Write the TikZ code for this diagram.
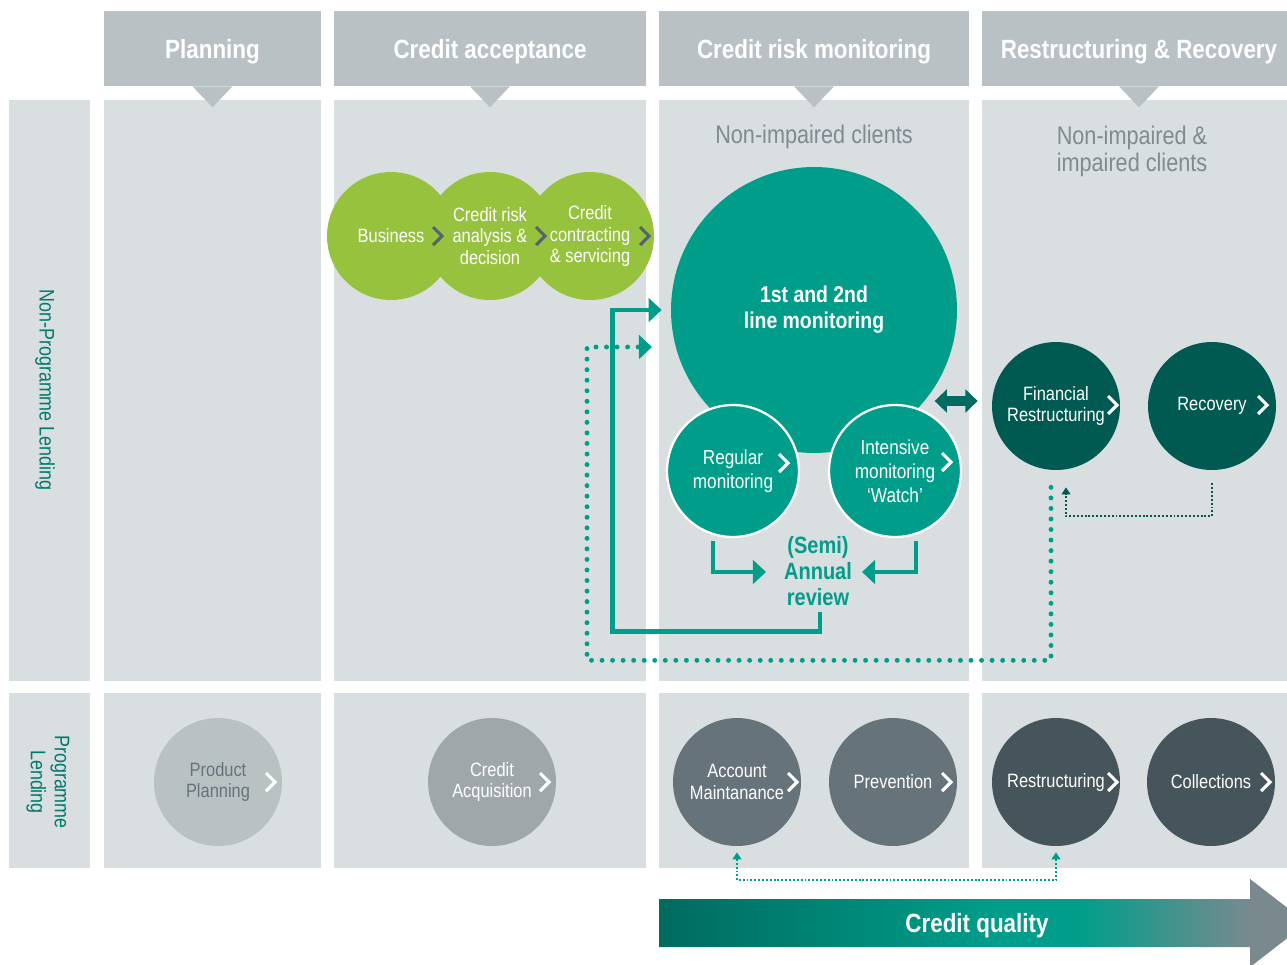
\documentclass[tikz,border=0pt]{standalone}
\usepackage{fontspec}
\setmainfont{Liberation Sans}[FakeStretch=0.85]
\usetikzlibrary{positioning,arrows.meta,calc}

\definecolor{headgray}{HTML}{BAC1C4}
\definecolor{panelgray}{HTML}{D9DEE0}
\definecolor{leafgreen}{HTML}{97C23D}
\definecolor{monteal}{HTML}{009E8A}
\definecolor{deepteal}{HTML}{005A52}
\definecolor{arrowteal}{HTML}{006B61}
\definecolor{labelteal}{HTML}{007A6C}
\definecolor{chevgray}{HTML}{58646B}
\definecolor{notegray}{HTML}{7F8B90}
\definecolor{plangray}{HTML}{B9C1C3}
\definecolor{acqgray}{HTML}{A0A7AB}
\definecolor{slate}{HTML}{66737B}
\definecolor{darkslate}{HTML}{46545B}
\definecolor{qualgray}{HTML}{7A898E}
\definecolor{qualdark}{HTML}{006B5F}

\newcommand{\chevmark}[3]{\draw[chevline,draw=#3] ($(#1)+(#2)+(-5,-9)$) -- ++(9,9) -- ++(-9,9);}

\begin{document}
\begin{tikzpicture}[x=0.02cm, y=-0.02cm,
			every node/.style={align=center, inner sep=0pt},
			head/.style={fill=headgray, text=white, minimum height=1.5cm, text depth=0pt,
				font=\fontsize{15}{18}\selectfont\bfseries},
			stage/.style={circle, minimum size=2.56cm, text=white,
				font=\fontsize{11}{12.2}\selectfont},
			watch/.style={circle, minimum size=2.64cm, fill=monteal, draw=white,
				line width=1.3pt, text=white, font=\fontsize{11.5}{13.6}\selectfont},
			note/.style={text=notegray, font=\fontsize{14.5}{15.4}\selectfont},
			lane/.style={rotate=-90, text=labelteal, font=\fontsize{12}{13.6}\selectfont},
			chevline/.style={line width=1.8pt, line join=miter},
			flowline/.style={draw=monteal, line width=2.6pt,
				-{Triangle[length=7.5pt,width=13.5pt]}},
			dotflow/.style={draw=monteal, line width=2.8pt, line cap=round,
				dash pattern=on 0pt off 6pt, -{Triangle[length=7.5pt,width=13.5pt]}},
			fineflow/.style={line width=1.1pt, dash pattern=on 1.1pt off 1.1pt},
			dblflow/.style={draw=arrowteal, line width=5.5pt,
				{Triangle[length=7pt,width=13pt]}-{Triangle[length=7pt,width=13pt]}}]
			
			\useasboundingbox (0,0) rectangle (1287,964);
			
			\clip (0,0) rectangle (1287,964);
			
			% lanes
			\foreach \xa/\xb in {9/90,104/321,334/646,659/969,982/1300}{
				\fill[panelgray] (\xa,100) rectangle (\xb,681);
				\fill[panelgray] (\xa,693) rectangle (\xb,868);
			}
			
			% phase headers
			\node[head, minimum width=4.34cm] (hplan) at (212.5,48.5) {Planning};
			
			\node[head, minimum width=6.24cm] (hacc) at (490,48.5) {Credit acceptance};
			
			\node[head, minimum width=6.2cm] (hmon) at (814,48.5) {Credit risk monitoring};
			
			\node[head, minimum width=6.28cm] (hrec) at (1139,48.5) {Restructuring \& Recovery};
			
			\foreach \h in {hplan,hacc,hmon,hrec}
				\fill[headgray] ($(\h.south)+(-20,0)$) -- ($(\h.south)+(20,0)$) -- ($(\h.south)+(0,21)$) -- cycle;
			
			\node[lane] (npl) at (45,390) {Non-Programme Lending};
			
			\node[lane] (pl) at (48,782) {Programme\\Lending};
			
			\node[note] (nonimp) at (814,137) {Non-impaired clients};
			
			\node[note] (imp) at (1132,151) {Non-impaired \&\\impaired clients};
			
			% credit acceptance
			\node[stage, fill=leafgreen] (biz) at (391,236) {Business};
			
			\node[stage, fill=leafgreen] (risk) at (490,236) {Credit risk\\analysis \&\\decision};
			
			\node[stage, fill=leafgreen] (contr) at (590,236) {Credit\\contracting\\\& servicing};
			
			% monitoring
			\node[circle, minimum size=5.72cm, fill=monteal, text=white,
				font=\fontsize{13}{14.8}\selectfont\bfseries] (big) at (814,310)
				{\raisebox{3pt}{\parbox{4cm}{\centering 1st and 2nd\\line monitoring}}};
			
			\node[watch] (reg) at (733,471) {Regular\\monitoring};
			
			\node[watch] (int) at (895,471) {Intensive\\monitoring\\`Watch'};
			
			\node[text=monteal, font=\fontsize{13.4}{15}\selectfont\bfseries] (review) at (818,571) {(Semi)\\Annual\\review};
			
			% restructuring and recovery
			\node[stage, fill=deepteal] (fin) at (1056,406) {Financial\\Restructuring};
			
			\node[stage, fill=deepteal] (rec) at (1212,406) {Recovery};
			
			% programme lending
			\node[stage, fill=plangray, text=slate] (pp) at (218,782) {Product\\Planning};
			
			\node[stage, fill=acqgray] (ca) at (492,782) {Credit\\Acquisition};
			
			\node[stage, fill=slate] (am) at (737,782) {Account\\Maintanance};
			
			\node[stage, fill=slate] (prev) at (893,782) {Prevention};
			
			\node[stage, fill=darkslate] (rs) at (1056,782) {Restructuring};
			
			\node[stage, fill=darkslate] (col) at (1211,782) {Collections};
			
			\chevmark{biz}{47,0}{chevgray}
			\chevmark{risk}{51,0}{chevgray}
			\chevmark{contr}{55,0}{chevgray}
			\chevmark{reg}{51,-8}{white}
			\chevmark{int}{52,-9}{white}
			\chevmark{fin}{57,-1}{white}
			\chevmark{rec}{51,-1}{white}
			\chevmark{pp}{53,0}{white}
			\chevmark{ca}{53,0}{white}
			\chevmark{am}{56,0}{white}
			\chevmark{prev}{54,0}{white}
			\chevmark{rs}{57,0}{white}
			\chevmark{col}{55,0}{white}
			
			% connectors
			\draw[flowline] ($(reg.south)+(-20,3)$) |- ($(review.center)+(-52,1)$);
			
			\draw[flowline] ($(int.south)+(21,3)$) |- ($(review.center)+(44,1)$);
			
			\draw[flowline] ($(review.south)+(2,6)$) -- ++(0,19) -| ($(big.west)+(-58,0)$) -- ($(big.west)+(-9,0)$);
			
			\coordinate (dotin) at (652,347);
			
			\draw[dotflow] ($(fin.south)+(-5,17)$) -- ++(0,173) -| ($(dotin)+(-65,0)$) -- (dotin);
			
			\draw[fineflow, draw=deepteal, -{Triangle[length=4pt,width=5pt]}] ($(rec.south)+(0,13)$) -- ++(0,33) -| ($(fin.south)+(10,17)$);
			
			\draw[fineflow, draw=monteal, {Triangle[length=4pt,width=5pt]}-{Triangle[length=4pt,width=5pt]}] ($(am.south)+(0,6)$) -- ++(0,28) -| ($(rs.south)+(0,6)$);
			
			\draw[dblflow] ($(fin.west)+(-57,-5)$) -- ($(fin.west)+(-14,-5)$);
			
			% credit quality arrow
			\begin{scope}
				\clip (659,899) -- (1250,899) -- (1250,879) -- (1307,923) -- (1250,967) -- (1250,947) -- (659,947) -- cycle;
				\shade[left color=qualdark, right color=monteal] (658,870) rectangle (1001,970);
				\fill[monteal] (1000,870) rectangle (1081,970);
				\shade[left color=monteal, right color=qualgray] (1080,870) rectangle (1251,970);
				\fill[qualgray] (1250,870) rectangle (1310,970);
			\end{scope}
			
			\node[text=white, text depth=0pt, font=\fontsize{15}{18}\selectfont\bfseries] (qual) at (977,923) {Credit quality};
			
		\end{tikzpicture}
\end{document}
